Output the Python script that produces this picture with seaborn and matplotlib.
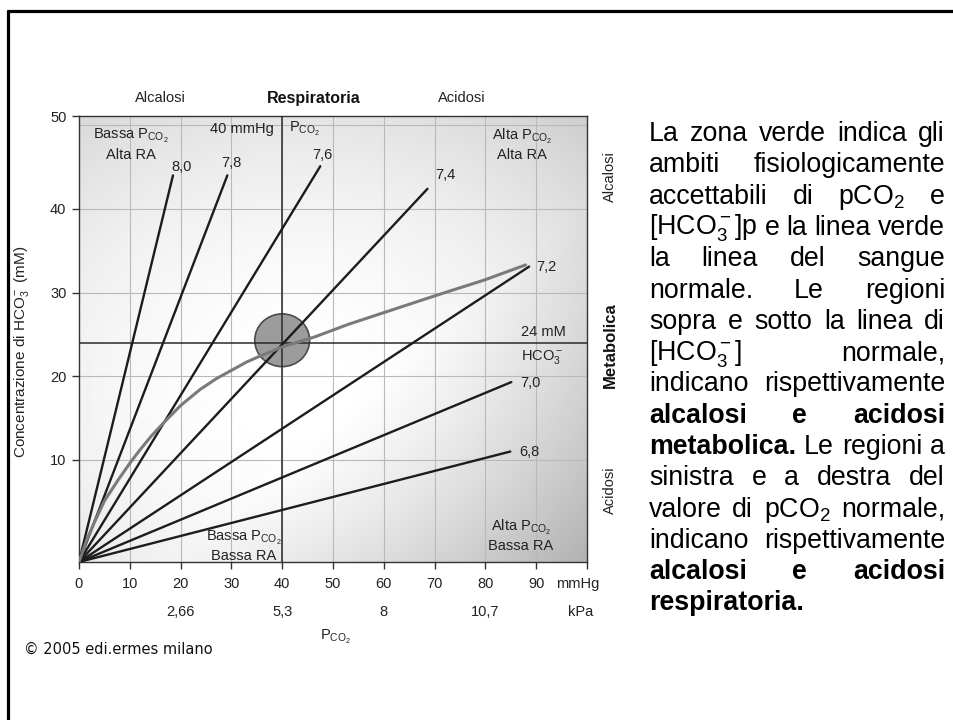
import numpy as np
import pandas as pd
import matplotlib
matplotlib.use("Agg")
import matplotlib.pyplot as plt
import seaborn as sns
from matplotlib.patches import Ellipse
from matplotlib.lines import Line2D

# ---------------- data ----------------
ph_labels = ['8,0', '7,8', '7,6', '7,4', '7,2', '7,0', '6,8']
ray_end_x = [18.5, 29.2, 47.5, 68.6, 88.6, 85.1, 84.9]
ray_end_y = [44.0, 44.0, 45.1, 42.4, 33.1, 19.3, 11.0]
origin_x, origin_y = 0.0, -2.2

curve_x = [0, 1.5, 3, 5, 7.7, 10, 12, 14.3, 16.6, 20, 23.8, 27, 30.3, 33, 35.6, 40,
           46.4, 53, 60, 70, 79.8, 87.9]
curve_y = [-2.2, 0.4, 2.5, 5.1, 7.6, 9.6, 11.2, 12.9, 14.4, 16.5, 18.4, 19.7, 20.8, 21.7,
           22.4, 23.5, 24.7, 26.2, 27.6, 29.6, 31.5, 33.3]

normal_pco2 = 40
normal_hco3 = 24

x_ticks = [0, 10, 20, 30, 40, 50, 60, 70, 80, 90, 100]
x_ticklabels = ['0', '10', '20', '30', '40', '50', '60', '70', '80', '90', '']
y_ticks = [10, 20, 30, 40, 51.1]
y_ticklabels = ['10', '20', '30', '40', '50']
grid_x = [10, 20, 30, 40, 50, 60, 70, 80, 90]
grid_y = [10, 20, 30, 40, 50]
kpa_pos = [20, 40, 60, 80]
kpa_labels = ['2,66', '5,3', '8', '10,7']

para = [
    "La zona verde indica gli",
    "ambiti fisiologicamente",
    "accettabili di pCO$_2$ e",
    "[HCO$_3^-$]p e la linea verde",
    "la linea del sangue",
    "normale. Le regioni",
    "sopra e sotto la linea di",
    "[HCO$_3^-$] normale,",
    "indicano rispettivamente",
    "*alcalosi *e *acidosi",
    "*metabolica. Le regioni a",
    "sinistra e a destra del",
    "valore di pCO$_2$ normale,",
    "indicano rispettivamente",
    "*alcalosi *e *acidosi",
    "*respiratoria.",
]

# ---------------- style ----------------
sns.set_theme(style="white")
plt.rcParams['font.family'] = ['Liberation Sans', 'DejaVu Sans']
plt.rcParams['mathtext.fontset'] = 'custom'
plt.rcParams['mathtext.rm'] = 'Liberation Sans'
plt.rcParams['mathtext.it'] = 'Liberation Sans:italic'
plt.rcParams['mathtext.bf'] = 'Liberation Sans:bold'

W, H = 954, 720
fig = plt.figure(figsize=(9.54, 7.2), dpi=100)
fig.patch.set_facecolor('white')


def fx(px):
    return px / W


def fy(py):
    return 1 - py / H


ax = fig.add_axes([fx(79), fy(562), (587 - 79) / W, (562 - 116) / H])
ax.set_xlim(0, 100)
ax.set_ylim(-2.2, 51.1)

# background shading
u = np.linspace(0, 1, 300)
v = np.linspace(0, 1, 300)
U, V = np.meshgrid(u, v)
r2 = (U - 0.42) ** 2 + (V - 0.38) ** 2
shade = 1 - 0.27 * r2 - 0.22 * np.clip((U - V) - 0.2, 0, None)
shade = np.clip(shade, 0, 1)
ax.imshow(shade, extent=(0, 100, -2.2, 51.1), origin='lower', aspect='auto',
          cmap='gray', vmin=0, vmax=1, zorder=0, interpolation='bilinear')

for gx in grid_x:
    ax.axvline(gx, color='#b9b9b9', lw=0.8, zorder=1)
for gy in grid_y:
    ax.axhline(gy, color='#b9b9b9', lw=0.8, zorder=1)

# normal zone
ax.add_patch(Ellipse((normal_pco2, 24.3), width=10.8, height=6.3, facecolor='#9c9c9c',
                     edgecolor='#4a4a4a', lw=1.2, zorder=2))

ax.axvline(normal_pco2, color='#2a2a2a', lw=1.1, zorder=3)
ax.axhline(normal_hco3, color='#2a2a2a', lw=1.1, zorder=3)

# isopH rays
rows = []
for lab, ex, ey in zip(ph_labels, ray_end_x, ray_end_y):
    rows.append({'pH': lab, 'pCO2': origin_x, 'HCO3': origin_y})
    rows.append({'pH': lab, 'pCO2': ex, 'HCO3': ey})
df = pd.DataFrame(rows)
sns.lineplot(data=df, x='pCO2', y='HCO3', units='pH', estimator=None, sort=False,
             color='#1c1c1c', lw=1.7, ax=ax, zorder=4)

# buffer curve
sns.lineplot(x=curve_x, y=curve_y, sort=False, color='#7a7a7a', lw=2.2, ax=ax, zorder=4)

label_off = [(9, 8), (4, 12), (2, 11), (18, 14), (17, 0), (19, -1), (19, 0)]
for lab, ex, ey, off in zip(ph_labels, ray_end_x, ray_end_y, label_off):
    ax.annotate(lab, (ex, ey), xytext=off, textcoords='offset pixels',
                ha='center', va='center', fontsize=10.5, color='#222222', zorder=5)

ax.set_xticks(x_ticks)
ax.set_xticklabels(x_ticklabels)
ax.set_yticks(y_ticks)
ax.set_yticklabels(y_ticklabels)
ax.tick_params(axis='both', which='both', bottom=True, left=True, direction='out',
               length=5, width=1, color='#333333', labelsize=10.5, pad=4,
               labelcolor='#222222')
ax.tick_params(axis='x', pad=6)
for s in ax.spines.values():
    s.set_visible(True)
    s.set_color('#333333')
    s.set_linewidth(1.0)
ax.set_xlabel('')
ax.set_ylabel('')

fs = 10.5
tc = '#222222'
ax.text(10.2, 47.7, 'Bassa P$_{\\mathrm{CO}_2}$\nAlta RA', ha='center', va='center',
        fontsize=fs, color=tc, multialignment='center', zorder=5)
ax.text(87.2, 47.7, 'Alta P$_{\\mathrm{CO}_2}$\nAlta RA', ha='center', va='center',
        fontsize=fs, color=tc, multialignment='center', zorder=5)
ax.text(32.5, -0.3, 'Bassa P$_{\\mathrm{CO}_2}$\nBassa RA', ha='center', va='center',
        fontsize=fs, color=tc, multialignment='center', zorder=5)
ax.text(87.0, 1.0, 'Alta P$_{\\mathrm{CO}_2}$\nBassa RA', ha='center', va='center',
        fontsize=fs, color=tc, multialignment='center', zorder=5)
ax.text(38.4, 49.6, '40 mmHg', ha='right', va='center', fontsize=fs, color=tc, zorder=5)
ax.text(41.3, 49.6, 'P$_{\\mathrm{CO}_2}$', ha='left', va='center', fontsize=fs, color=tc, zorder=5)
ax.text(91.5, 25.3, '24 mM', ha='center', va='center', fontsize=fs, color=tc, zorder=5)
ax.text(91.2, 22.3, 'HCO$_3^-$', ha='center', va='center', fontsize=fs, color=tc, zorder=5)

# secondary labels under axis
trans = ax.get_xaxis_transform()
ax.text(94.0, -0.049, 'mmHg', transform=trans, ha='left', va='center', fontsize=fs, color=tc)
for kp, kl in zip(kpa_pos, kpa_labels):
    ax.text(kp, -0.112, kl, transform=trans, ha='center', va='center', fontsize=fs, color=tc)
ax.text(96.3, -0.112, 'kPa', transform=trans, ha='left', va='center', fontsize=fs, color=tc)

# outside labels
fig.text(fx(160), fy(98), 'Alcalosi', ha='center', va='center', fontsize=fs, color=tc)
fig.text(fx(314), fy(98), 'Respiratoria', ha='center', va='center', fontsize=11.5,
         fontweight='bold', color='#111111')
fig.text(fx(462), fy(98), 'Acidosi', ha='center', va='center', fontsize=fs, color=tc)
fig.text(fx(610), fy(177), 'Alcalosi', ha='center', va='center', rotation=90, fontsize=fs, color=tc)
fig.text(fx(610), fy(345), 'Metabolica', ha='center', va='center', rotation=90,
         fontsize=12, fontweight='bold', color='#111111')
fig.text(fx(610), fy(490), 'Acidosi', ha='center', va='center', rotation=90, fontsize=fs, color=tc)
fig.text(fx(335), fy(637), 'P$_{\\mathrm{CO}_2}$', ha='center', va='center', fontsize=fs, color=tc)
fig.text(fx(22), fy(352), 'Concentrazione di HCO$_3^-$ (mM)', ha='center', va='center',
         rotation=90, fontsize=11, color=tc)
fig.text(fx(24), fy(649), '\u00a9 2005 edi.ermes milano', ha='left', va='center',
         fontsize=10.5, family='DejaVu Sans', color='#111111')

# page frame
fig.add_artist(Line2D([fx(8.5), 1], [fy(10.5), fy(10.5)], color='black', lw=2.3,
                      transform=fig.transFigure))
fig.add_artist(Line2D([fx(8.5), fx(8.5)], [fy(10.5), 0], color='black', lw=2.3,
                      transform=fig.transFigure))

# justified paragraph
renderer = fig.canvas.get_renderer()
L, R = 649, 945
pfs = 19.3
for i, line in enumerate(para):
    base = 133 + 31.3 * i + 8
    words = line.split(' ')
    texts = []
    for w in words:
        bold = w.startswith('*')
        w2 = w[1:] if bold else w
        t = fig.text(0, fy(base), w2, fontsize=pfs, fontweight='bold' if bold else 'normal',
                     ha='left', va='baseline', color='black')
        texts.append(t)
    widths = [t.get_window_extent(renderer).width for t in texts]
    justify = i < len(para) - 1 and len(texts) > 1
    if justify:
        gap = (R - L - sum(widths)) / (len(texts) - 1)
    else:
        gap = 7.5
    x = L
    for t, wd in zip(texts, widths):
        t.set_x(fx(x))
        x += wd + gap

fig.savefig('out.png', dpi=100)
